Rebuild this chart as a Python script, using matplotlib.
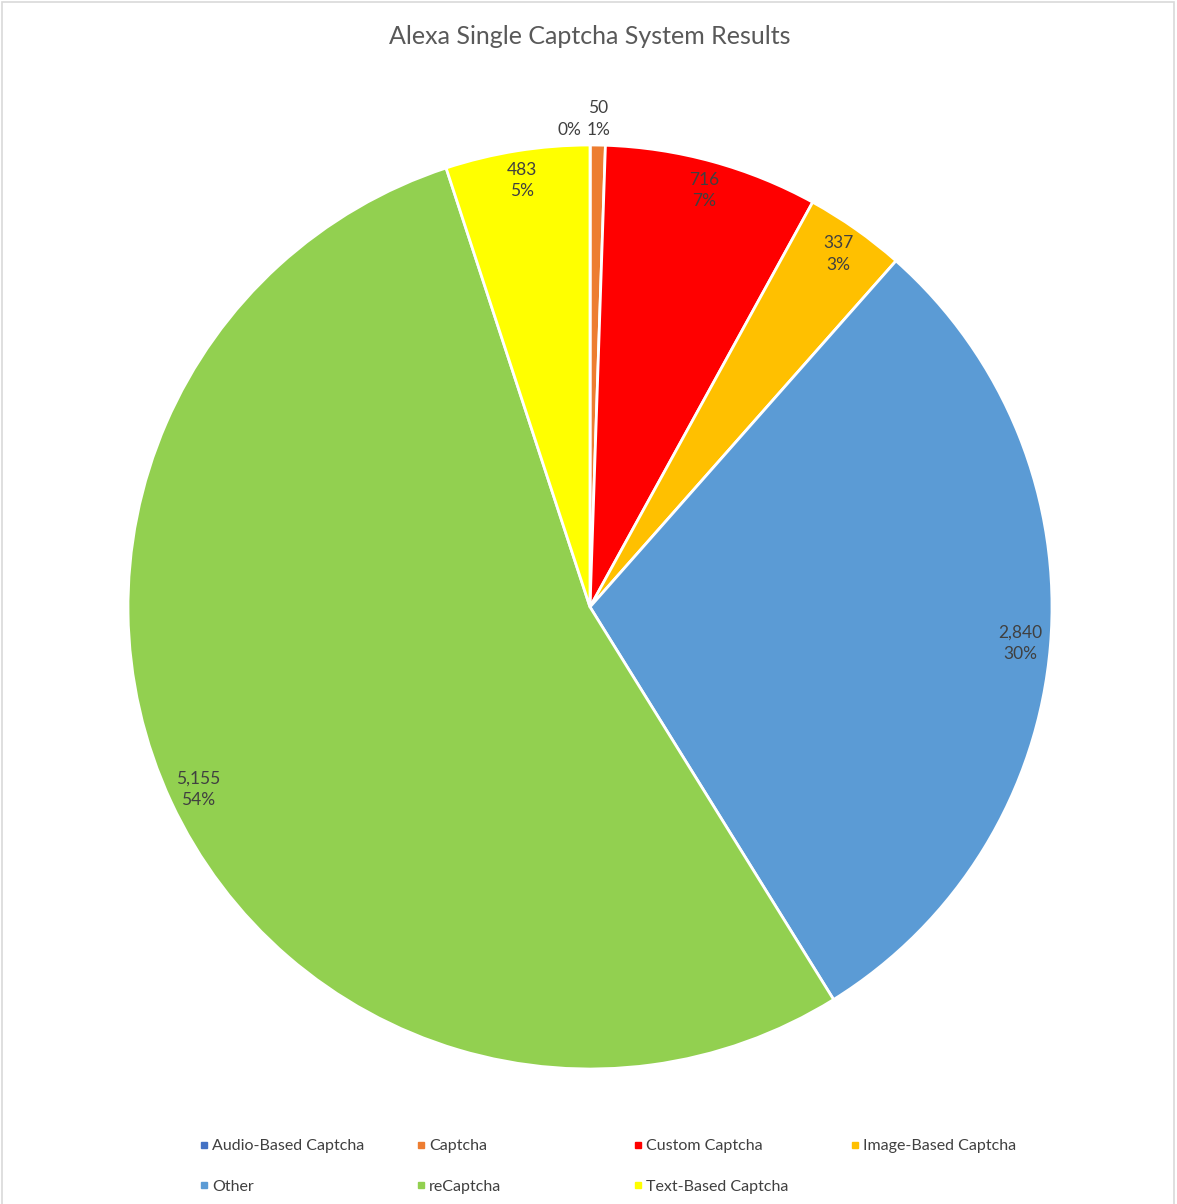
import matplotlib.pyplot as plt
from matplotlib.patches import Rectangle
import numpy as np

plt.rcParams['font.family'] = ['Lato', 'DejaVu Sans']

categorias = ["Audio-Based Captcha", "Captcha", "Custom Captcha", "Image-Based Captcha",
              "Other", "reCaptcha", "Text-Based Captcha"]
valores = [1, 50, 716, 337, 2840, 5155, 483]
colores = ["#4472C4", "#ED7D31", "#FF0000", "#FFC000", "#5B9BD5", "#92D050", "#FFFF00"]
etiquetas = ["", "50", "716", "337", "2,840", "5,155", "483"]
porcentajes = ["0%", "1%", "7%", "3%", "30%", "54%", "5%"]

W, H = 1177, 1204
fig = plt.figure(figsize=(W / 100, H / 100), dpi=100)

# marco gris
fig.patches.append(Rectangle((2 / W, -0.01), (1172) / W, 1 - 2 / H + 0.01,
                             transform=fig.transFigure, fill=False,
                             edgecolor="#D9D9D9", linewidth=1.2))

cx, cy, r = 590, 607, 462
ax = fig.add_axes([(cx - r) / W, (H - cy - r) / H, 2 * r / W, 2 * r / H])
cuñas, _ = ax.pie(valores, colors=colores, startangle=90, counterclock=False,
                  wedgeprops=dict(edgecolor="white", linewidth=2))
ax.set_xlim(-1, 1)
ax.set_ylim(-1, 1)
ax.axis("off")

total = sum(valores)
for i, c in enumerate(cuñas):
    ang = np.deg2rad((c.theta1 + c.theta2) / 2)
    frac = valores[i] / total
    if frac < 0.02:
        d = 1.056
        x, y = d * np.cos(ang), d * np.sin(ang)
        if etiquetas[i] == "":
            # sin número, sólo el porcentaje, desplazado a la izquierda
            ax.annotate(porcentajes[i], (x, y), xytext=(-15, -8), textcoords="offset points",
                        ha="center", va="center", fontsize=12.5, color="#404040",
                        annotation_clip=False)
            continue
    else:
        d = 0.935
        x, y = d * np.cos(ang), d * np.sin(ang)
    ax.text(x, y, etiquetas[i] + "\n" + porcentajes[i], ha="center", va="center",
            fontsize=12.5, color="#404040", linespacing=1.45, clip_on=False)

fig.text(590 / W, 1 - 37 / H, "Alexa Single Captcha System Results", ha="center", va="center",
         fontsize=18, color="#595959")

# leyenda: 4 columnas con ancho fijo
filas = [[0, 1, 2, 3], [4, 5, 6]]
xs = [192, 409, 626, 843]
for col in range(4):
    idx = [f[col] for f in filas if col < len(f)]
    handles = [plt.Line2D([], [], marker="s", linestyle="", markersize=5,
                          markerfacecolor=colores[k], markeredgecolor=colores[k]) for k in idx]
    fig.legend(handles, [categorias[k] for k in idx], loc="upper left",
               bbox_to_anchor=(xs[col] / W, 1 - 1131 / H), frameon=False,
               fontsize=11.5, labelcolor="#404040", handlelength=0.5, handletextpad=0.25,
               labelspacing=1.65, borderpad=0)

fig.savefig("out.png", dpi=100, facecolor="white")
